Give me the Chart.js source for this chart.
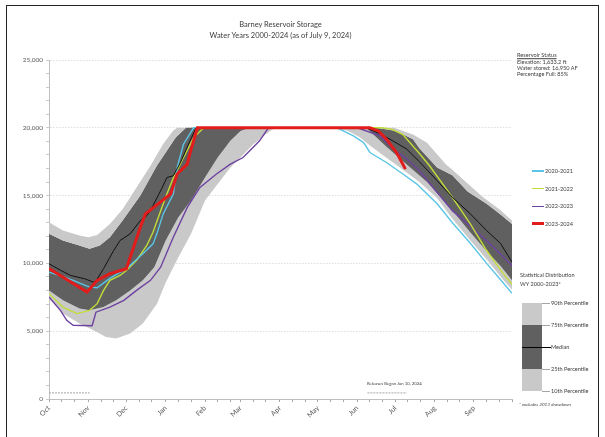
<!DOCTYPE html>
<html>
<head>
<meta charset="utf-8">
<script src="https://cdn.jsdelivr.net/npm/chart.js@4.4.1/dist/chart.umd.min.js"></script>
<style>
    body { margin: 0; background: #fff; }
    #wrap { position: relative; width: 605px; height: 437px; overflow: hidden; font-family: Lato, "Open Sans", sans-serif; color: #404040; }
    #frame { position: absolute; left: 6px; top: 5px; width: 593px; height: 450px; border: 1.5px solid #262626; box-sizing: border-box; }
    canvas { position: absolute; left: 0; top: 0; }
    .t { position: absolute; white-space: nowrap; line-height: 1; }
    .mid { transform: translate(-50%, -50%); }
    .lft { transform: translateY(-50%); }
    .sw { position: absolute; }
</style>
</head>
<body>
<div id="wrap">
    <canvas id="chart" width="605" height="437"></canvas>
    <div id="frame"></div>

    <div class="t mid" style="left:280.5px; top:25px; font-size:7.5px;">Barney Reservoir Storage</div>
    <div class="t mid" style="left:280.5px; top:36px; font-size:7.5px;">Water Years 2000-2024 (as of July 9, 2024)</div>

    <div class="t lft" style="left:517px; top:55px; font-size:5.6px; text-decoration:underline;">Reservoir Status</div>
    <div class="t lft" style="left:517px; top:61.5px; font-size:5.6px;">Elevation: 1,633.2 ft</div>
    <div class="t lft" style="left:517px; top:67.5px; font-size:5.6px;">Water stored: 16,950 AF</div>
    <div class="t lft" style="left:517px; top:73.5px; font-size:5.6px;">Percentage Full: 85%</div>

    <div id="legend"></div>

    <div class="t lft" style="left:520px; top:275px; font-size:5.6px;">Statistical Distribution</div>
    <div class="t lft" style="left:520px; top:284px; font-size:5.6px;">WY 2000-2023*</div>
    <div class="sw" style="left:521.5px; top:303px; width:20px; height:88px; background:#c9c9c9;"></div>
    <div class="sw" style="left:521.5px; top:325px; width:20px; height:44px; background:#606060;"></div>
    <div class="sw" style="left:521.5px; top:346.5px; width:29px; height:1.2px; background:#000;"></div>
    <div class="sw" style="left:542px; top:303px; width:8px; height:0.8px; background:#a6a6a6;"></div>
    <div class="sw" style="left:542px; top:325px; width:8px; height:0.8px; background:#a6a6a6;"></div>
    <div class="sw" style="left:542px; top:369px; width:8px; height:0.8px; background:#a6a6a6;"></div>
    <div class="sw" style="left:542px; top:390.5px; width:8px; height:0.8px; background:#a6a6a6;"></div>
    <div class="t lft" style="left:551px; top:303px; font-size:5.6px;">90th Percentile</div>
    <div class="t lft" style="left:551px; top:325px; font-size:5.6px;">75th Percentile</div>
    <div class="t lft" style="left:551px; top:347px; font-size:5.6px;">Median</div>
    <div class="t lft" style="left:551px; top:369px; font-size:5.6px;">25th Percentile</div>
    <div class="t lft" style="left:551px; top:391px; font-size:5.6px;">10th Percentile</div>
    <div class="t lft" style="left:519px; top:404px; font-size:4.6px; font-style:italic;">* excludes 2013 drawdown</div>

    <div class="t lft" style="left:367px; top:384px; font-size:4.3px;">Releases Began Jun 10, 2024</div>
</div>

<script>
// water-year day numbers (0 = Oct 1)
const monthTickDays = [0, 31, 61, 92, 123, 151, 182, 212, 243, 273, 304, 335];
const monthLabels = ["Oct", "Nov", "Dec", "Jan", "Feb", "Mar", "Apr", "May", "Jun", "Jul", "Aug", "Sep"];

// statistical distribution WY 2000-2023 (acre-feet)
const p90Days = [0, 11, 24, 31, 38, 48, 58, 69, 80, 90, 98, 101, 272, 287, 298, 313, 318, 330, 342, 355, 365];
const p90 = [13030, 12420, 12050, 11930, 12100, 12900, 14000, 15600, 17200, 18800, 19800, 20000, 20000, 19500, 18900, 17300, 16900, 15900, 14900, 14000, 13160];

const p75Days = [0, 11, 24, 32, 40, 48, 58, 72, 85, 95, 100, 108, 258, 274, 287, 292, 306, 318, 330, 345, 356, 365];
const p75 = [12180, 11690, 11320, 11080, 11320, 11930, 13160, 15000, 17200, 18600, 19300, 20000, 20000, 19770, 19160, 18500, 17070, 16500, 15300, 14400, 13600, 12900];

const medianDays = [0, 9, 17, 28, 35, 37, 43, 51, 56, 64, 72, 76, 80, 88, 93, 98, 104, 111, 116, 250, 261, 271, 282, 292, 306, 318, 332, 345, 356, 365];
const median = [9970, 9500, 9110, 8870, 8620, 8700, 9610, 10950, 11690, 12180, 13160, 13400, 13890, 15360, 16340, 16460, 17500, 19000, 20000, 20000, 19550, 19040, 18430, 17500, 16100, 14870, 13670, 12420, 11470, 10090];

const p25Days = [0, 11, 24, 32, 43, 53, 64, 74, 83, 92, 102, 112, 123, 133, 143, 151, 158, 250, 266, 282, 298, 318, 332, 345, 356, 365];
const p25 = [8000, 7280, 6670, 6540, 6780, 7280, 8010, 8750, 9720, 11690, 13400, 14630, 16340, 17810, 19040, 19770, 20000, 20000, 18600, 17300, 16000, 13900, 12300, 10900, 9800, 8750];

const p10Days = [0, 11, 24, 35, 45, 53, 64, 74, 85, 92, 102, 112, 123, 133, 143, 151, 161, 171, 178, 222, 235, 245, 253, 266, 279, 292, 306, 318, 332, 345, 358, 365];
const p10 = [7400, 6300, 5560, 5070, 4580, 4460, 4830, 5560, 7000, 8600, 10460, 12180, 14630, 15850, 17070, 17810, 18790, 19530, 20000, 20000, 19800, 19300, 18700, 17800, 16900, 16000, 14800, 13300, 11700, 10300, 8800, 8050];

// individual water years
const wy2021Days = [0, 10, 19, 32, 38, 48, 61, 74, 82, 85, 90, 98, 101, 106, 114, 227, 240, 248, 253, 266, 279, 290, 306, 318, 332, 345, 355, 365];
const wy2021 = [9360, 9050, 8750, 8250, 8200, 8900, 9610, 10710, 11440, 12180, 13650, 15120, 17070, 18790, 20000, 20000, 19400, 18910, 18180, 17440, 16590, 15850, 14400, 13000, 11500, 10000, 8900, 7790];

const wy2022Days = [0, 11, 22, 32, 38, 43, 48, 56, 61, 69, 77, 82, 87, 92, 98, 106, 114, 122, 262, 270, 279, 292, 300, 318, 332, 345, 358, 365];
const wy2022 = [7770, 6780, 6300, 6540, 7030, 8010, 8750, 9110, 9480, 10220, 11300, 12300, 13600, 14900, 16300, 17800, 19280, 20000, 20000, 19900, 19500, 18100, 17200, 14870, 12940, 10950, 9260, 8450];

const wy2023Days = [0, 9, 14, 19, 34, 37, 48, 59, 69, 80, 88, 98, 109, 119, 132, 143, 153, 166, 173, 243, 261, 271, 282, 292, 318, 345, 365];
const wy2023 = [7520, 6540, 5800, 5440, 5400, 6400, 6780, 7280, 8010, 8750, 9720, 11930, 14130, 15600, 16590, 17320, 17810, 19040, 20000, 20000, 19400, 18450, 17710, 16830, 13890, 11690, 9850];

const wy2024Days = [0, 30, 38, 48, 61, 64, 72, 76, 96, 101, 109, 111, 117, 253, 260, 266, 274, 281];
const wy2024 = [9630, 7890, 8750, 9240, 9610, 10460, 12660, 13650, 15120, 16590, 17320, 18080, 20000, 20000, 19750, 19160, 18180, 16950];

// release period markers
const releaseDaysA = [0, 32];
const releaseDaysB = [251, 282];
const releaseLevel = [450, 450];

const legendItems = [
    { label: "2020-2021", color: "#5bc5e6", width: 1.4 },
    { label: "2021-2022", color: "#c2dc3a", width: 1.4 },
    { label: "2022-2023", color: "#6e43a0", width: 1.4 },
    { label: "2023-2024", color: "#e21b1b", width: 3 },
];

const LIGHT = "#c9c9c9";
const DARK = "#606060";

function points(days, values) {
    return days.map((d, i) => ({ x: d, y: values[i] }));
}

function yearLine(days, values, item) {
    return {
        data: points(days, values),
        borderColor: item.color,
        borderWidth: item.width,
        pointRadius: 0,
        fill: false,
    };
}

function band(days, values, target, color) {
    return {
        data: points(days, values),
        borderWidth: 0,
        borderColor: "transparent",
        backgroundColor: color,
        pointRadius: 0,
        fill: target === null ? false : { target: target },
    };
}

function buildLegend() {
    const box = document.getElementById("legend");
    legendItems.forEach((item, i) => {
        const y = 171 + i * 17.6;
        box.innerHTML += `
            <div class="sw" style="left:532px; top:${y - item.width / 2}px; width:12px; height:${item.width}px; background:${item.color};"></div>
            <div class="t lft" style="left:545px; top:${y}px; font-size:5.6px;">${item.label}</div>
        `;
    });
}

const xTickDays = [];
monthTickDays.forEach(d => xTickDays.push(d, d + 10, d + 20));
xTickDays.push(365);

Chart.defaults.font.family = "Lato, 'Open Sans', sans-serif";
Chart.defaults.color = "#595959";

new Chart("chart", {
    type: "line",
    data: {
        datasets: [
            yearLine(wy2024Days, wy2024, legendItems[3]),
            { data: points(medianDays, median), borderColor: "#111", borderWidth: 1, pointRadius: 0, fill: false },
            yearLine(wy2021Days, wy2021, legendItems[0]),
            yearLine(wy2022Days, wy2022, legendItems[1]),
            yearLine(wy2023Days, wy2023, legendItems[2]),
            band(p90Days, p90, 6, LIGHT),
            band(p75Days, p75, 7, DARK),
            band(p25Days, p25, 8, LIGHT),
            band(p10Days, p10, null, LIGHT),
            { data: points(releaseDaysA, releaseLevel), borderColor: "#a6a6a6", borderWidth: 1, borderDash: [2, 1], pointRadius: 0, fill: false },
            { data: points(releaseDaysB, releaseLevel), borderColor: "#a6a6a6", borderWidth: 1, borderDash: [2, 1], pointRadius: 0, fill: false },
        ],
    },
    options: {
        responsive: false,
        animation: false,
        layout: { padding: { left: 8, top: 60, right: 93, bottom: 8 } },
        plugins: {
            legend: { display: false },
            tooltip: { enabled: false },
            title: { display: false },
        },
        scales: {
            x: {
                type: "linear",
                min: 0,
                max: 365,
                afterBuildTicks: axis => { axis.ticks = xTickDays.map(v => ({ value: v })); },
                afterFit: axis => { axis.height = 30; },
                ticks: {
                    autoSkip: false,
                    minRotation: 45,
                    maxRotation: 45,
                    padding: 2,
                    font: { size: 7 },
                    callback: v => {
                        const i = monthTickDays.indexOf(v);
                        return i >= 0 ? monthLabels[i] : "";
                    },
                },
                grid: { drawOnChartArea: false, tickLength: 3, tickColor: "#a6a6a6" },
                border: { color: "#bfbfbf", width: 1 },
            },
            y: {
                min: 0,
                max: 25000,
                afterFit: axis => { axis.width = 41; },
                ticks: {
                    stepSize: 1000,
                    padding: 3,
                    font: { size: 6.5 },
                    callback: v => (v % 5000 === 0 ? v.toLocaleString("en-US") : ""),
                },
                grid: {
                    tickLength: 3,
                    tickColor: "#bfbfbf",
                    lineWidth: 0.8,
                    color: c => (c.tick && c.tick.value > 0 && c.tick.value % 5000 === 0 ? "#d4d4d4" : "transparent"),
                },
                border: { color: "#bfbfbf", width: 1, dash: [1.5, 1.5] },
            },
        },
    },
});

buildLegend();
</script>
</body>
</html>
